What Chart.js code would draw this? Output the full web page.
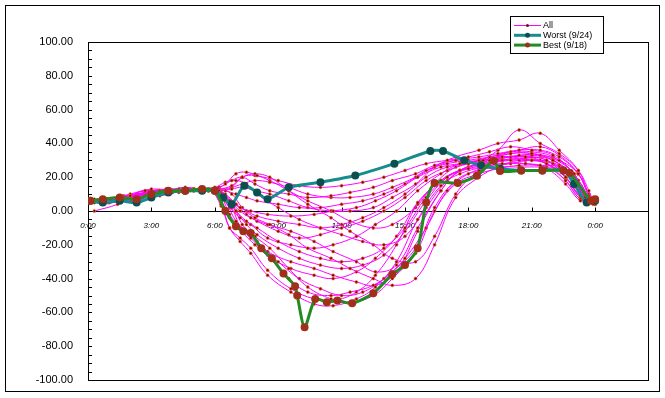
<!DOCTYPE html>
<html>
<head>
<meta charset="utf-8">
<script src="https://cdn.jsdelivr.net/npm/chart.js@4.4.1/dist/chart.umd.min.js"></script>
<style>
  body { margin: 0; background: #fff; }
</style>
</head>
<body>
<canvas id="chart" width="665" height="398"></canvas>
<script>
// sample times (hours) of the "All" days; days were logged at slightly different times
const hoursA = [0, 1, 2, 3, 4, 5, 6, 6.5, 7, 7.5, 8, 9, 10, 11, 12, 13, 14, 15, 16, 17, 18, 19, 20, 21, 22, 23, 23.5, 24];
const hoursB = [0.3, 1.4, 2.3, 3.4, 4.3, 5.3, 6.2, 6.8, 7.3, 7.9, 8.6, 9.5, 10.4, 11.5, 12.4, 13.5, 14.4, 15.5, 16.4, 17.4, 18.5, 19.4, 20.4, 21.4, 22.3, 23.2, 23.7, 23.9];
const hoursC = [0.2, 0.7, 1.7, 2.7, 3.7, 4.6, 5.7, 6.3, 6.7, 7.2, 7.7, 8.5, 9.6, 10.7, 11.6, 12.7, 13.6, 14.6, 15.6, 16.7, 17.6, 18.7, 19.6, 20.7, 21.7, 22.6, 23.3, 24];
const hourSets = [hoursA, hoursB, hoursC];

const allDays = [
  [6, 7, 9, 11, 12, 13, 13, 16, 22, 23, 21, 18, 15, 14, 15, 17, 20, 24, 28, 30, 32, 35, 38, 36, 33, 22, 10, 6],
  [5, 8, 6, 10, 12, 12, 14, 18, 20, 16, 12, 10, 8, 9, 11, 14, 18, 22, 27, 30, 30, 36, 48, 40, 34, 24, 12, 5],
  [7, 6, 8, 12, 11, 13, 12, 10, 6, 2, 0, -2, -3, -2, 0, 2, 6, 12, 20, 26, 28, 30, 32, 32, 30, 20, 9, 6],
  [6, 5, 7, 11, 12, 12, 13, 8, 0, -6, -10, -18, -24, -28, -30, -28, -22, -10, 8, 20, 25, 28, 30, 30, 28, 18, 8, 5],
  [5, 6, 8, 10, 12, 13, 12, 5, -8, -15, -22, -34, -45, -52, -54, -50, -40, -25, 0, 16, 22, 25, 27, 27, 26, 18, 7, 4],
  [6, 4, 7, 12, 11, 12, 13, 4, -10, -18, -25, -38, -48, -55, -56, -52, -45, -30, -5, 15, 22, 26, 28, 28, 25, 16, 6, 4],
  [6, 6, 9, 11, 12, 13, 12, 6, -6, -12, -18, -30, -40, -46, -50, -48, -40, -28, -10, 12, 22, 26, 28, 30, 28, 18, 8, 6],
  [7, 8, 5, 12, 13, 12, 13, 10, 2, -4, -8, -14, -22, -28, -34, -40, -44, -40, -20, 8, 20, 26, 30, 30, 27, 18, 8, 5],
  [6, 5, 8, 11, 12, 14, 12, 11, 6, 0, -4, -8, -12, -18, -24, -30, -36, -32, -10, 12, 24, 28, 30, 30, 28, 20, 9, 6],
  [5, 7, 10, 13, 12, 13, 14, 17, 18, 16, 10, 2, -5, -10, -14, -18, -20, -15, 2, 18, 26, 30, 34, 34, 30, 20, 8, 5],
  [6, 7, 6, 12, 11, 12, 13, 15, 20, 22, 20, 12, 4, -4, -12, -20, -28, -30, -15, 10, 24, 30, 33, 33, 30, 22, 9, 5],
  [6, 6, 9, 10, 12, 13, 12, 8, 2, -4, -8, -16, -20, -22, -20, -15, -8, 0, 12, 22, 28, 30, 32, 32, 30, 20, 9, 6],
  [7, 5, 7, 11, 12, 12, 13, 12, 10, 8, 6, 4, 2, 2, 4, 6, 10, 16, 24, 28, 30, 32, 35, 35, 32, 22, 10, 6],
  [6, 6, 8, 12, 12, 13, 12, 2, -12, -20, -28, -40, -48, -50, -48, -44, -36, -22, 2, 18, 24, 26, 26, 26, 25, 18, 7, 5],
  [5, 7, 7, 11, 13, 12, 13, 6, -4, -10, -16, -26, -34, -38, -40, -36, -28, -15, 5, 18, 24, 28, 30, 32, 28, 18, 7, 4],
  [6, 6, 8, 11, 12, 13, 13, 9, 4, 0, -3, -6, -8, -10, -8, -4, 2, 10, 20, 26, 28, 30, 32, 33, 30, 20, 8, 5],
  [6, 8, 7, 12, 12, 13, 12, 13, 14, 12, 10, 6, 2, 0, 0, 2, 8, 16, 26, 32, 36, 40, 42, 46, 36, 24, 10, 6],
  [5, 6, 8, 10, 12, 12, 13, 3, -10, -16, -22, -35, -46, -52, -53, -48, -38, -20, 4, 18, 24, 26, 28, 28, 26, 18, 7, 5],
  [7, 6, 8, 12, 11, 13, 12, 7, 0, -8, -14, -22, -28, -32, -34, -32, -26, -12, 6, 20, 26, 30, 32, 32, 30, 20, 8, 5],
  [6, 7, 9, 12, 12, 13, 13, 14, 16, 18, 17, 14, 10, 8, 8, 10, 14, 20, 26, 30, 32, 34, 36, 36, 32, 22, 9, 6],
  [5, 5, 7, 11, 12, 13, 12, 8, -2, -10, -15, -24, -30, -34, -38, -42, -44, -36, -12, 12, 24, 28, 30, 31, 28, 20, 8, 5],
  [6, 7, 8, 12, 12, 12, 13, 10, 4, -2, -6, -12, -16, -14, -10, -6, 0, 8, 18, 24, 28, 31, 34, 34, 31, 22, 9, 6],
  [0, 4, 10, 9, 12, 13, 12, 14, 20, 21, 18, 12, 6, 0, -6, -10, -8, 2, 16, 26, 30, 33, 36, 38, 33, 22, 10, 8]
];

const worstHours = [0.1, 0.7, 1.5, 2.3, 3.0, 3.8, 4.6, 5.4, 6.0, 6.4, 6.8, 7.4, 8.0, 8.5, 9.5, 11, 12.65, 14.5, 16.2, 16.8, 17.8, 18.6, 19.5, 20.5, 21.5, 22.5, 23.0, 23.6, 24.0];
const worstValues = [6, 5, 6, 5, 8, 11, 12, 12, 12, 8, 4, 15, 11, 7, 14, 17, 21, 28, 35.5, 35.5, 30, 27, 25, 24, 24, 24, 16, 5, 6];

const bestHours = [0.1, 0.7, 1.5, 2.3, 3.0, 3.8, 4.6, 5.4, 6.0, 6.5, 7.0, 7.35, 7.7, 8.2, 8.7, 9.25, 9.8, 9.9, 10.25, 10.75, 11.3, 11.8, 12.5, 13.5, 14.4, 15.0, 15.6, 16.0, 16.4, 17.5, 18.4, 19.2, 19.5, 20.5, 21.5, 22.5, 22.8, 23.8, 24.0];
const bestValues = [6, 7, 8, 7, 10, 12, 12, 13, 12, 0, -9, -12, -13, -22, -28, -37, -44.5, -50, -68.8, -52, -54, -53, -54.6, -48.7, -37.4, -32, -22, 5, 16.6, 16.6, 20.8, 29.7, 23.7, 24, 24, 24, 22.6, 6, 7];

const yTicks = [-100, -80, -60, -40, -20, 0, 20, 40, 60, 80, 100];
const xTicks = [0, 3, 6, 9, 12, 15, 18, 21, 24];

const toPoints = (xs, ys) => xs.map((x, i) => ({ x: x, y: ys[i] }));

const datasets = [
  {
    label: 'Best (9/18)',
    data: toPoints(bestHours, bestValues),
    borderColor: '#228B22',
    borderWidth: 3,
    pointRadius: 2.5,
    pointBackgroundColor: '#A0301A',
    pointBorderColor: '#A0301A',
    tension: 0.25,
    order: 0
  },
  {
    label: 'Worst (9/24)',
    data: toPoints(worstHours, worstValues),
    borderColor: '#168C8C',
    borderWidth: 3,
    pointRadius: 2.5,
    pointBackgroundColor: '#0B4F4F',
    pointBorderColor: '#0B4F4F',
    tension: 0.25,
    order: 1
  }
];

allDays.forEach((vals, i) => {
  datasets.push({
    label: i === 0 ? 'All' : 'day' + i,
    data: toPoints(hourSets[i % 3], vals),
    borderColor: '#FF00FF',
    borderWidth: 1,
    pointRadius: 1.5,
    pointBorderWidth: 0.6,
    pointBackgroundColor: '#7A0A0A',
    pointBorderColor: '#FF6A2A',
    tension: 0.4,
    order: 2
  });
});

// frame, zero axis and the little inward ticks Excel draws
const framePlugin = {
  id: 'frame',
  beforeDatasetsDraw(chart) {
    const { ctx, chartArea: a, scales } = chart;
    const y0 = Math.round(scales.y.getPixelForValue(0)) + 0.5;
    ctx.save();
    ctx.strokeStyle = '#000';
    ctx.lineWidth = 1;
    ctx.strokeRect(Math.round(a.left) + 0.5, Math.round(a.top) + 0.5, Math.round(a.width), Math.round(a.height));
    ctx.beginPath();
    ctx.moveTo(a.left, y0);
    ctx.lineTo(a.right, y0);
    for (let v = -100; v <= 100; v += 5) {
      const py = Math.round(scales.y.getPixelForValue(v)) + 0.5;
      ctx.moveTo(a.left, py);
      ctx.lineTo(a.left + 4, py);
    }
    xTicks.forEach(h => {
      const px = Math.round(scales.x.getPixelForValue(h)) + 0.5;
      ctx.moveTo(px, y0);
      ctx.lineTo(px, y0 - 4);
    });
    ctx.stroke();
    ctx.restore();
  },
  afterDraw(chart) {
    const { ctx } = chart;
    ctx.save();
    ctx.strokeStyle = '#000';
    ctx.lineWidth = 1;
    ctx.strokeRect(5.5, 5.5, 654, 386);

    // legend
    ctx.fillStyle = '#fff';
    ctx.fillRect(510.5, 16.5, 93, 37);
    ctx.strokeRect(510.5, 16.5, 93, 37);
    const rows = [datasets[2], datasets[1], datasets[0]];
    rows.forEach((ds, i) => {
      const ry = 25.5 + i * 9.8;
      ctx.strokeStyle = ds.borderColor;
      ctx.lineWidth = ds.borderWidth;
      ctx.beginPath();
      ctx.moveTo(514, ry);
      ctx.lineTo(541, ry);
      ctx.stroke();
      ctx.fillStyle = ds.pointBackgroundColor;
      ctx.beginPath();
      ctx.arc(527.5, ry, ds.pointRadius, 0, Math.PI * 2);
      ctx.fill();
      ctx.fillStyle = '#000';
      ctx.font = '9px "Liberation Sans", Arial, sans-serif';
      ctx.textBaseline = 'middle';
      ctx.fillText(ds.label, 543, ry + 0.5);
    });
    ctx.restore();
  }
};

new Chart(document.getElementById('chart'), {
  type: 'line',
  data: { datasets: datasets },
  options: {
    responsive: false,
    animation: false,
    layout: { padding: { top: 42, right: 17, bottom: 18, left: 0 } },
    plugins: { legend: { display: false }, tooltip: { enabled: false } },
    scales: {
      x: {
        type: 'linear',
        min: 0,
        max: 26.5,
        position: { y: 0 },
        grid: { display: false, drawTicks: false },
        border: { display: false },
        afterFit: (scale) => { scale.height = 0; },
        afterBuildTicks: (scale) => {
          scale.ticks = xTicks.map(v => ({ value: v }));
        },
        ticks: {
          autoSkip: false,
          maxRotation: 0,
          padding: 10,
          color: '#000',
          font: { family: '"Liberation Sans", Arial, sans-serif', size: 8, style: 'italic' },
          callback: (v) => (v % 24) + ':00'
        }
      },
      y: {
        min: -100,
        max: 100,
        // tick length only used to push labels off the axis; the ticks are drawn by the plugin
        grid: { display: false, drawTicks: true, tickLength: 12 },
        border: { display: false },
        afterFit: (scale) => { scale.width = 88; },
        afterBuildTicks: (scale) => {
          scale.ticks = yTicks.map(v => ({ value: v }));
        },
        ticks: {
          padding: 3,
          color: '#000',
          font: { family: '"Liberation Sans", Arial, sans-serif', size: 11 },
          callback: (v) => v.toFixed(2)
        }
      }
    }
  },
  plugins: [framePlugin]
});
</script>
</body>
</html>
